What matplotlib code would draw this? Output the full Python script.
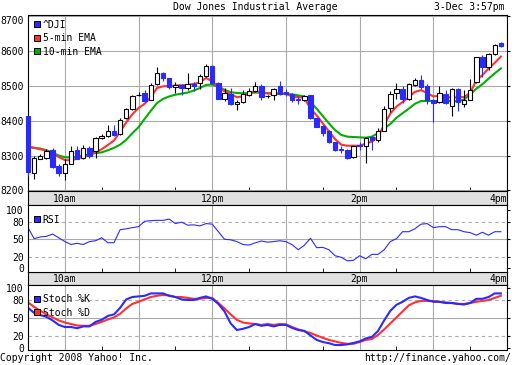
import numpy as np
import matplotlib.pyplot as plt
from matplotlib.lines import Line2D

# 5-minute candles of ^DJI, 9:30 to 15:55
opens = [8412, 8251, 8291, 8293, 8317, 8270, 8249, 8277, 8317, 8293,
         8322, 8312, 8349, 8356, 8369, 8362, 8406, 8434, 8474, 8478,
         8460, 8505, 8536, 8522, 8495, 8503, 8493, 8504, 8507, 8528,
         8556, 8508, 8462, 8475, 8446, 8453, 8474, 8484, 8499, 8469,
         8472, 8498, 8483, 8477, 8462, 8458, 8472, 8406, 8385, 8369,
         8338, 8319, 8317, 8296, 8330, 8326, 8354, 8343, 8371, 8437,
         8480, 8491, 8462, 8501, 8517, 8498, 8458, 8453, 8477, 8443,
         8491, 8446, 8460, 8511, 8581, 8552, 8589, 8621]
highs = [8412, 8300, 8303, 8319, 8322, 8275, 8289, 8326, 8328, 8331,
         8328, 8354, 8362, 8387, 8387, 8406, 8437, 8472, 8481, 8488,
         8507, 8552, 8538, 8523, 8509, 8505, 8536, 8509, 8533, 8561,
         8558, 8511, 8493, 8493, 8460, 8488, 8493, 8509, 8505, 8474,
         8493, 8514, 8491, 8478, 8469, 8472, 8474, 8408, 8387, 8373,
         8340, 8326, 8319, 8328, 8340, 8354, 8356, 8378, 8441, 8485,
         8508, 8498, 8508, 8523, 8530, 8506, 8462, 8498, 8487, 8494,
         8494, 8487, 8520, 8583, 8588, 8592, 8618, 8624]
lows = [8240, 8232, 8289, 8290, 8265, 8242, 8231, 8275, 8289, 8290,
        8293, 8293, 8347, 8354, 8356, 8359, 8404, 8431, 8470, 8453,
        8458, 8503, 8512, 8491, 8478, 8472, 8488, 8486, 8491, 8525,
        8505, 8461, 8456, 8444, 8430, 8450, 8470, 8481, 8458, 8465,
        8460, 8474, 8469, 8453, 8446, 8456, 8404, 8381, 8356, 8336,
        8312, 8308, 8289, 8293, 8317, 8279, 8317, 8340, 8369, 8424,
        8463, 8450, 8460, 8498, 8491, 8446, 8395, 8450, 8446, 8412,
        8427, 8438, 8458, 8508, 8525, 8546, 8587, 8610]
closes = [8252, 8293, 8298, 8312, 8268, 8249, 8277, 8312, 8291, 8322,
          8298, 8350, 8356, 8370, 8358, 8403, 8434, 8469, 8474, 8456,
          8503, 8536, 8523, 8497, 8503, 8493, 8505, 8500, 8527, 8556,
          8507, 8462, 8480, 8446, 8453, 8477, 8486, 8499, 8467, 8469,
          8489, 8477, 8475, 8460, 8458, 8469, 8406, 8383, 8364, 8338,
          8317, 8315, 8293, 8326, 8327, 8350, 8343, 8371, 8434, 8477,
          8491, 8462, 8504, 8517, 8496, 8460, 8450, 8479, 8450, 8491,
          8453, 8460, 8488, 8581, 8552, 8589, 8616, 8612]

ema5 = [8326, 8322, 8318, 8314, 8305, 8296, 8287, 8286, 8291, 8297,
        8301, 8310, 8318, 8330, 8343, 8368, 8395, 8418, 8436, 8448,
        8467, 8493, 8498, 8499, 8500, 8501, 8502, 8505, 8509, 8522,
        8512, 8495, 8484, 8475, 8467, 8469, 8477, 8484, 8481, 8478,
        8478, 8478, 8477, 8469, 8467, 8465, 8434, 8415, 8392, 8369,
        8347, 8331, 8328, 8328, 8328, 8334, 8340, 8354, 8388, 8420,
        8440, 8453, 8467, 8482, 8487, 8479, 8469, 8471, 8469, 8465,
        8467, 8467, 8479, 8515, 8530, 8549, 8565, 8583]
ema10 = [8324, 8322, 8320, 8315, 8308, 8300, 8295, 8294, 8296, 8300,
         8303, 8307, 8309, 8315, 8322, 8331, 8345, 8364, 8381, 8405,
         8428, 8450, 8462, 8469, 8474, 8477, 8480, 8486, 8493, 8502,
         8503, 8497, 8488, 8481, 8479, 8478, 8478, 8480, 8480, 8478,
         8476, 8476, 8476, 8475, 8472, 8469, 8453, 8434, 8413, 8392,
         8373, 8359, 8354, 8353, 8352, 8351, 8354, 8364, 8378, 8390,
         8408, 8421, 8434, 8448, 8456, 8456, 8456, 8456, 8456, 8456,
         8455, 8460, 8475, 8491, 8504, 8520, 8535, 8549]

rsi = [70, 51, 54, 55, 59, 52.6, 46, 41, 43, 41,
       46, 47.4, 52.6, 44, 44, 66.5, 68, 70, 71.7, 81,
       82, 82.6, 82.6, 84.7, 77, 79.5, 74.3, 74.8, 73, 77,
       76, 63, 50, 49, 46, 41, 40, 43.8, 47, 45,
       46, 47.4, 45.9, 40.7, 32, 39.7, 51.6, 35.5, 36, 32,
       21.6, 19, 12.8, 13.8, 21.6, 16.4, 24, 24, 32, 46,
       51, 63, 63, 68, 76, 77, 70, 71.7, 71.7, 66.5,
       66.5, 63, 61.4, 57, 62, 57, 63, 63]

stoch_k = [67.5, 59, 55.5, 52.5, 46.5, 39, 35.5, 35.5, 33.5, 36.5,
           36.5, 44, 47.5, 54, 56.5, 67.5, 81.5, 85.5, 86.5, 87.5,
           91.5, 91.5, 91.5, 87.5, 85.5, 81.5, 80.5, 80.5, 84, 86.5,
           82.5, 74, 61.5, 41.5, 30.5, 32.5, 35.5, 40.5, 37.5, 39,
           36.5, 39, 39, 34, 30.5, 29, 21.5, 14, 10.5, 8.5,
           5.5, 5.5, 6.5, 9, 11.5, 16.5, 19, 29, 46.5, 62.5,
           72.5, 77.5, 84, 86.5, 84, 80.5, 77.5, 77.5, 75.5, 75.5,
           74, 73, 75.5, 82.5, 82.5, 85.5, 91.5, 91.5]
stoch_d = [76.5, 69, 62.5, 56.5, 51.5, 46.5, 43, 40.5, 38, 37.5,
           37.5, 40.5, 44, 48, 51.5, 57.5, 66.5, 74, 77.5, 81.5,
           85.5, 87.5, 89, 88, 85.5, 85.5, 84, 82.5, 82.5, 84,
           84, 75.5, 66.5, 56.5, 47.5, 43, 41.5, 40.5, 39, 40.5,
           39, 40.5, 40, 35.5, 31.5, 28.5, 25.5, 21.5, 17.5, 14,
           11.5, 9, 7.5, 7.5, 10.5, 14, 15.5, 22.5, 31.5, 41.5,
           51.5, 61.5, 71.5, 76.5, 79, 79, 79, 77.5, 76.5, 75.5,
           74, 74, 75.5, 77.5, 79, 80.5, 84, 87.5]

time_labels = ['10am', '12pm', '2pm', '4pm']
time_label_pos = [10, 12, 14, 16]

BLUE = '#2a2aff'
RED = '#ff3030'
GREEN = '#00b000'
GRID = '#aaaaaa'
BAND = '#e0e0e0'
FS = 7

plt.rcParams['font.family'] = ['DejaVu Sans Mono']
plt.rcParams['axes.linewidth'] = 0.8

W, H = 512, 365
fig = plt.figure(figsize=(W / 100, H / 100), dpi=100)


def box(top, bottom, left=28, right=507):
    return [left / W, 1 - bottom / H, (right - left) / W, (bottom - top) / H]


t = 9.5 + np.arange(len(opens)) / 12.0
o = np.array(opens)
c = np.array(closes)
down = c < o

# price panel
ax = fig.add_axes(box(15, 191))
ax.set_xlim(9.5, 16)
ax.set_ylim(8198.5, 8702)
ax.plot(t, ema10, color=GREEN, lw=1.5, zorder=2)
ax.plot(t, ema5, color=RED, lw=1.5, zorder=2)
ax.vlines(t, lows, highs, colors=np.where(down, BLUE, 'black'), lw=0.8,
          zorder=3, clip_on=False)
ax.bar(t, np.abs(c - o), bottom=np.minimum(o, c), width=0.06,
       color=np.where(down, BLUE, 'white'),
       edgecolor=np.where(down, BLUE, 'black'), lw=0.8, zorder=4,
       clip_on=False)
ax.set_yticks([8200, 8300, 8400, 8500, 8600, 8700])
ax.set_yticklabels(['8200', '8300', '8400', '8500', '8600', '8700'], fontsize=FS)
ax.get_yticklabels()[-1].set_verticalalignment('top')
ax.tick_params(axis='y', left=False, right=True, length=2, pad=1)
ax.grid(True, color=GRID, lw=0.8, zorder=0)
ax.legend(handles=[
    Line2D([], [], marker='s', ls='none', mfc=BLUE, mec='black', ms=5, mew=0.7, label='^DJI'),
    Line2D([], [], marker='s', ls='none', mfc=RED, mec='black', ms=5, mew=0.7, label='5-min EMA'),
    Line2D([], [], marker='s', ls='none', mfc=GREEN, mec='black', ms=5, mew=0.7, label='10-min EMA')],
    loc='upper left', frameon=False, fontsize=FS, handlelength=0.8,
    handletextpad=0.2, borderaxespad=0.3, borderpad=0.2, labelspacing=0.35)


def time_axis(a):
    a.set_xlim(9.5, 16)
    a.set_xticks(np.arange(10, 17))
    a.set_xticks(np.arange(9.5, 16.5, 1.0), minor=True)
    a.tick_params(axis='x', which='major', length=0, labelbottom=False)
    a.tick_params(axis='x', which='minor', direction='in', length=3, bottom=True)
    a.xaxis.grid(True, color=GRID, lw=0.8)
    a.set_axisbelow(True)


time_axis(ax)


def band(top, bottom):
    b = fig.add_axes(box(top, bottom))
    b.set_facecolor(BAND)
    b.set_xlim(9.5, 16)
    b.set_ylim(0, 1)
    b.set_xticks([])
    b.set_yticks([])
    for lbl, x in zip(time_labels, time_label_pos):
        b.text(x, 0.45, lbl, ha='right' if x == 16 else 'center', va='center',
               fontsize=FS)
    return b


band(191, 205)
band(272, 285)


def osc_axis(a, lo, hi):
    a.set_ylim(lo, hi)
    a.set_yticks([0, 20, 50, 80, 100])
    a.set_yticklabels(['0', '20', '50', '80', '100'], fontsize=FS)
    a.tick_params(axis='y', left=False, right=True, length=2, pad=1)
    a.axhline(80, color=GRID, lw=0.8, ls=(0, (3, 3)), zorder=0)
    a.axhline(20, color=GRID, lw=0.8, ls=(0, (3, 3)), zorder=0)
    a.axhline(50, color=GRID, lw=0.8, zorder=0)
    time_axis(a)


# RSI panel
rax = fig.add_axes(box(205, 272))
osc_axis(rax, -6.4, 109)
rax.plot(t, rsi, color=BLUE, lw=0.8)
rax.legend(handles=[Line2D([], [], marker='s', ls='none', mfc=BLUE, mec='black',
                           ms=5, mew=0.7, label='RSI')],
           loc='upper left', frameon=False, fontsize=FS, handlelength=0.8,
           handletextpad=0.2, borderaxespad=0.3, borderpad=0.2,
           bbox_to_anchor=(0, 0.93))

# Stochastic panel
sax = fig.add_axes(box(285, 350))
osc_axis(sax, -2.8, 105.5)
sax.plot(t, stoch_d, color=RED, lw=1.5)
sax.plot(t, stoch_k, color=BLUE, lw=1.5)
sax.legend(handles=[
    Line2D([], [], marker='s', ls='none', mfc=BLUE, mec='black', ms=5, mew=0.7, label='Stoch %K'),
    Line2D([], [], marker='s', ls='none', mfc=RED, mec='black', ms=5, mew=0.7, label='Stoch %D')],
    loc='upper left', frameon=False, fontsize=FS, handlelength=0.8,
    handletextpad=0.2, borderaxespad=0.3, borderpad=0.2, labelspacing=0.35,
    bbox_to_anchor=(0, 0.93))

fig.text(255 / W, 1 - 7 / H, 'Dow Jones Industrial Average', ha='center',
         va='center', fontsize=FS)
fig.text(505 / W, 1 - 7 / H, '3-Dec 3:57pm', ha='right', va='center', fontsize=FS)
fig.text(0, 1 - 358 / H, 'Copyright 2008 Yahoo! Inc.', ha='left', va='center',
         fontsize=FS)
fig.text(511 / W, 1 - 358 / H, 'http://finance.yahoo.com/', ha='right',
         va='center', fontsize=FS)

fig.savefig('out.png', dpi=100)
